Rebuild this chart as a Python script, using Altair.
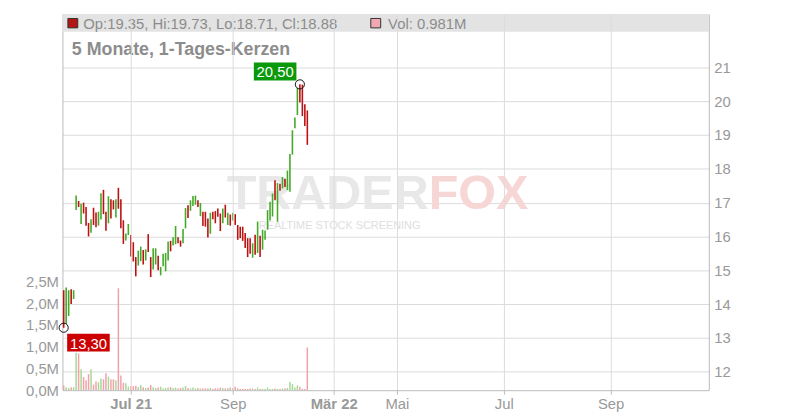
import json
import altair as alt
import pandas as pd

# ---------------- data ----------------
highs = [14.41, 14.49, 14.41, 14.44, 14.41,
         17.21, 17.05, 16.97, 17.00, 16.87, 16.40, 16.51, 16.85, 16.71, 16.73,
         17.28, 17.38, 16.73, 17.19, 17.10, 17.07, 17.10, 17.44, 17.10, 16.48,
         16.09, 16.37, 16.04, 15.83, 15.39, 15.58, 15.70, 15.60, 15.62,
         16.07, 15.39, 15.65, 15.65, 15.43, 15.10, 15.49, 15.51, 15.85, 15.87,
         15.98, 16.31, 15.98, 15.88, 16.22, 16.84, 16.92, 17.07, 17.20, 17.21,
         17.07, 16.99, 16.73, 16.73, 16.53, 16.70, 16.73, 16.75, 16.83, 16.68,
         16.83, 16.94, 16.70, 16.65,
         16.70, 16.66, 16.34, 16.29, 16.29, 16.10, 15.95, 15.95, 15.80, 16.05,
         16.44, 16.02, 16.20, 16.18, 16.78, 17.03, 17.27, 17.66, 17.58, 17.56,
         17.76, 17.71, 17.95, 18.44, 19.14, 19.52, 20.39, 20.50, 20.49, 19.91,
         19.73]
lows = [13.30, 13.41, 13.65, 14.00, 14.15,
        16.78, 16.87, 16.37, 16.68, 16.32, 16.00, 16.11, 16.34, 16.27, 16.32,
        16.50, 16.66, 16.17, 16.39, 16.53, 16.80, 16.56, 16.82, 16.24, 15.78,
        15.88, 16.04, 15.41, 15.26, 14.82, 15.14, 15.27, 15.17, 15.29,
        15.54, 14.80, 15.02, 15.17, 15.00, 14.85, 15.12, 14.97, 15.29, 15.56,
        15.73, 15.77, 15.80, 15.70, 15.80, 16.24, 16.55, 16.76, 16.90, 16.94,
        16.87, 16.60, 16.31, 16.29, 15.97, 16.08, 16.51, 16.39, 16.58, 16.16,
        16.39, 16.56, 16.34, 16.32,
        16.47, 16.34, 15.90, 15.95, 15.87, 15.66, 15.39, 15.49, 15.37, 15.46,
        15.51, 15.39, 15.61, 15.90, 16.20, 16.47, 16.59, 17.07, 16.44, 17.35,
        17.42, 17.46, 17.37, 17.32, 18.42, 19.20, 19.59, 19.96, 19.56, 19.27,
        18.71]
# u = rising candle (green), d = falling candle (red)
directions = list("duudu"
                  "ududdd" "udduud" "duddud" "dduudd" "duudu"
                  "dduudu" "uuuduu" "dduudu" "uududd" "dudddd" "udud"
                  "uddddd" "ddudud" "uuuuud" "ududuu" "uuuddd" "d")
volumes = [0.11, 0.07, 0.05, 0.07, 0.07,
           0.86, 0.84, 0.48, 0.30, 0.23, 0.37, 0.48, 0.13, 0.20, 0.18,
           0.27, 0.25, 0.39, 0.31, 0.25, 0.25, 0.23, 2.34, 0.34, 0.17,
           0.16, 0.08, 0.09, 0.09, 0.10, 0.07, 0.12, 0.07, 0.05,
           0.06, 0.12, 0.07, 0.05, 0.06, 0.08, 0.04, 0.05, 0.06, 0.07,
           0.05, 0.06, 0.04, 0.05, 0.06, 0.10, 0.05, 0.04, 0.06, 0.04,
           0.05, 0.04, 0.04, 0.04, 0.04, 0.05, 0.03, 0.04, 0.04, 0.06,
           0.05, 0.04, 0.05, 0.06,
           0.05, 0.08, 0.04, 0.03, 0.03, 0.03, 0.03, 0.04, 0.04, 0.03,
           0.06, 0.03, 0.03, 0.03, 0.06, 0.03, 0.03, 0.04, 0.03, 0.03,
           0.04, 0.04, 0.05, 0.19, 0.14, 0.06, 0.11, 0.08, 0.03, 0.03,
           0.981]

last_ohlc = [19.35, 19.73, 18.71, 18.88]
last_volume = "0.981M"

x_tick_values = [27, 68, 108.6, 134, 177, 220]
x_tick_labels = ["Jul 21", "Sep", "Mär 22", "Mai", "Jul", "Sep"]
x_bold_values = [27, 108.6]
price_ticks = [12, 13, 14, 15, 16, 17, 18, 19, 20, 21]
volume_ticks = [0, 0.5, 1.0, 1.5, 2.0, 2.5]

title_text = "5 Monate, 1-Tages-Kerzen"
header_text = "Op:{:.2f}, Hi:{:.2f}, Lo:{:.2f}, Cl:{:.2f}".format(*last_ohlc)
vol_text = "Vol: " + last_volume

# ---------------- styling ----------------
W, H = 653, 380
FONT = "Liberation Sans"
UP, DOWN = "#44a828", "#bb1111"
VUP, VDOWN = "#a6d896", "#f2a0aa"
GRID = "#dcdcdc"
AXIS = "#bbbbbb"
LABEL = "#999999"

n = min(len(highs), len(lows), len(directions), len(volumes))
df = pd.DataFrame({
    "i": list(range(n)),
    "high": highs[:n],
    "low": lows[:n],
    "dir": directions[:n],
    "vol": volumes[:n],
})

xscale = alt.Scale(domain=[-0.5, 259.5], nice=False, zero=False)
pscale = alt.Scale(domain=[11.453, 22.58], nice=False, zero=False)
vscale = alt.Scale(domain=[0, 8.636], nice=False, zero=False)

lbl_js = json.dumps(x_tick_labels, ensure_ascii=False)
pos_js = json.dumps(x_tick_values)
bold_js = json.dumps(x_bold_values)

xaxis = alt.Axis(
    values=x_tick_values,
    labelExpr=f"{lbl_js}[indexof({pos_js}, datum.value)]",
    labelFontWeight=alt.ExprRef(expr=f"indexof({bold_js}, datum.value) >= 0 ? 'bold' : 'normal'"),
    grid=True, gridColor=GRID, domainColor=AXIS, tickColor=AXIS, tickSize=4,
    labelColor=LABEL, labelFontSize=15, labelPadding=3, labelOverlap=False,
    labelFlush=False, title=None, zindex=1,
)
paxis = alt.Axis(
    orient="right", values=price_ticks, format="d", grid=True, gridColor=GRID,
    ticks=False, domainColor=AXIS, labelColor=LABEL, labelFontSize=15,
    labelPadding=5, title=None,
)
vaxis = alt.Axis(
    orient="left", values=volume_ticks,
    labelExpr="replace(format(datum.value, '.1f'), '.', ',') + 'M'",
    grid=False, ticks=False, domainColor=AXIS, labelColor=LABEL,
    labelFontSize=15, labelPadding=4, title=None,
)

xenc = alt.X("i:Q", scale=xscale, axis=xaxis, title=None)

one = pd.DataFrame({"k": [0]})

# volume bars
volume = alt.Chart(df).mark_rule(strokeWidth=1.5).encode(
    x=xenc,
    y=alt.Y("vol:Q", scale=vscale, axis=vaxis),
    y2=alt.datum(0),
    color=alt.condition(alt.datum.dir == "u", alt.value(VUP), alt.value(VDOWN)),
)

# header / decorations
header_bar = alt.Chart(one).mark_rect(color="#e3e3e3").encode(
    x=alt.value(0), x2=alt.value(W), y=alt.value(0), y2=alt.value(18))

wm_trader = alt.Chart(one).mark_text(
    text="TRADER", align="right", baseline="alphabetic", fontSize=49,
    fontWeight="bold", color="#e8e8e8").encode(x=alt.value(370), y=alt.value(197))
wm_fox = alt.Chart(one).mark_text(
    text="FOX", align="left", baseline="alphabetic", fontSize=49,
    fontWeight="bold", color="#f7d6d6").encode(x=alt.value(370), y=alt.value(197))
wm_sub = alt.Chart(one).mark_text(
    text="REALTIME STOCK SCREENING", align="center", baseline="middle",
    fontSize=11, color="#dedede").encode(x=alt.value(280), y=alt.value(214))

# candles
candles = alt.Chart(df).mark_rule(strokeWidth=1.6).encode(
    x=xenc,
    y=alt.Y("high:Q", scale=pscale, axis=paxis),
    y2="low:Q",
    color=alt.condition(alt.datum.dir == "u", alt.value(UP), alt.value(DOWN)),
)

BOX = "M-1,-0.42 L1,-0.42 L1,0.42 L-1,0.42 Z"


def annotation(idx, price, fill, dx, dy):
    d = pd.DataFrame({"i": [idx], "price": [price],
                      "label": [f"{price:.2f}".replace(".", ",")]})
    base = alt.Chart(d).encode(x=xenc, y=alt.Y("price:Q", scale=pscale, axis=paxis))
    box = base.mark_point(shape=BOX, size=43 * 43, filled=True, color=fill,
                          opacity=1, strokeWidth=0, xOffset=dx, yOffset=dy)
    txt = base.mark_text(color="white", fontSize=15, align="center",
                         baseline="middle", dx=dx, dy=dy + 1).encode(text="label:N")
    ring = base.mark_point(shape="circle", size=85, filled=False, color="#111111",
                           strokeWidth=1, opacity=1)
    return [box, txt, ring]


imax = max(range(n), key=lambda k: highs[k])
imin = min(range(n), key=lambda k: lows[k])
ann = annotation(imax, highs[imax], "#0a990a", -25, -13) + \
      annotation(imin, lows[imin], "#cc0000", 25, 15)

sq_red = alt.Chart(one).mark_rect(fill="#b31515", stroke="#333333", strokeWidth=1).encode(
    x=alt.value(5.5), x2=alt.value(15.5), y=alt.value(4.5), y2=alt.value(14))
sq_pink = alt.Chart(one).mark_rect(fill="#f0a8b2", stroke="#333333", strokeWidth=1).encode(
    x=alt.value(311.5), x2=alt.value(321.5), y=alt.value(4.5), y2=alt.value(14))
hdr_txt = alt.Chart(one).mark_text(
    text=header_text, align="left", baseline="middle", fontSize=15,
    color="#8c8c8c").encode(x=alt.value(21), y=alt.value(10))
vol_txt = alt.Chart(one).mark_text(
    text=vol_text, align="left", baseline="middle", fontSize=15,
    color="#8c8c8c").encode(x=alt.value(329), y=alt.value(10))
title = alt.Chart(one).mark_text(
    text=title_text, align="left", baseline="alphabetic", fontSize=18,
    fontWeight="bold", color="#8c8c8c").encode(x=alt.value(9.5), y=alt.value(41.5))

price_group = alt.layer(header_bar, wm_trader, wm_fox, wm_sub, candles, *ann,
                        sq_red, sq_pink, hdr_txt, vol_txt, title)

chart = alt.layer(volume, price_group).resolve_scale(y="independent").properties(
    width=W, height=H,
    autosize=alt.AutoSizeParams(type="none"),
    padding={"left": 55, "top": 4, "right": 84, "bottom": 25},
    background="white",
).configure_view(stroke=None).configure_axis(labelFont=FONT).configure_text(font=FONT)

chart.save("out.html", embed_options={"renderer": "svg", "actions": False})
